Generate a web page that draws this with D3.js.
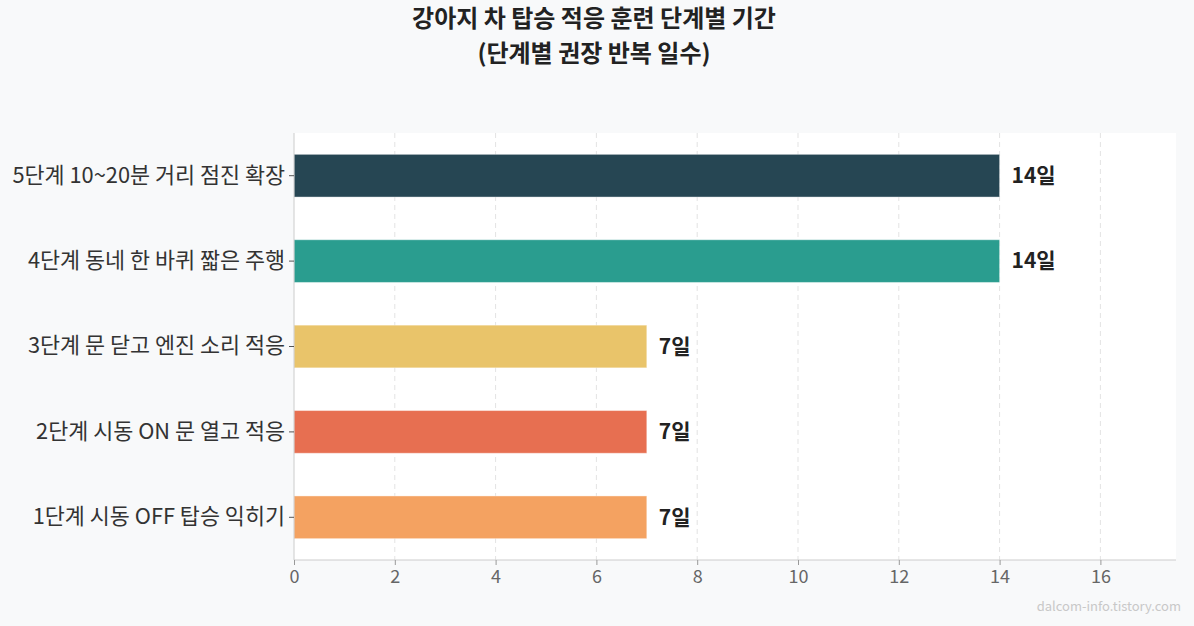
<!DOCTYPE html>
<html>
<head>
<meta charset="utf-8">
<script src="https://cdn.jsdelivr.net/npm/d3@7"></script>
<style>
  body { margin: 0; background: #f8f9fa; }
  svg { font-family: "Noto Sans CJK KR", "Noto Sans", sans-serif; display: block; }
</style>
</head>
<body>
<div id="chart"></div>
<script>
// data, top to bottom as drawn
let stages = [
    "5단계 10~20분 거리 점진 확장",
    "4단계 동네 한 바퀴 짧은 주행",
    "3단계 문 닫고 엔진 소리 적응",
    "2단계 시동 ON 문 열고 적응",
    "1단계 시동 OFF 탑승 익히기"
];
let days = [14, 14, 7, 7, 7];
let barColors = ["#264653", "#2a9d8f", "#e9c46a", "#e76f51", "#f4a261"];
let xTicks = [0, 2, 4, 6, 8, 10, 12, 14, 16];

let svgWidth = 1194;
let svgHeight = 626;

let chartMargin = { top: 133, right: 18, bottom: 66, left: 294 };
let chartWidth = svgWidth - chartMargin.left - chartMargin.right;
let chartHeight = svgHeight - chartMargin.top - chartMargin.bottom;

let svg = d3.select("#chart")
    .append("svg")
    .attr("width", svgWidth)
    .attr("height", svgHeight);

svg.append("rect")
    .attr("width", svgWidth)
    .attr("height", svgHeight)
    .attr("fill", "#f8f9fa");

// title, two lines in one text
let title = svg.append("text")
    .attr("text-anchor", "middle")
    .attr("font-size", "24px")
    .attr("font-weight", "bold")
    .attr("fill", "#222");
title.append("tspan").attr("x", 594).attr("y", 27).text("강아지 차 탑승 적응 훈련 단계별 기간");
title.append("tspan").attr("x", 594).attr("y", 62).text("(단계별 권장 반복 일수)");

let chartGroup = svg.append("g")
    .attr("transform", `translate(${chartMargin.left}, ${chartMargin.top})`);

chartGroup.append("rect")
    .attr("width", chartWidth)
    .attr("height", chartHeight)
    .attr("fill", "#ffffff");

let xLinearScale = d3.scaleLinear()
    .domain([0, 17.5])
    .range([0, chartWidth]);

let yBandScale = d3.scaleBand()
    .domain(stages)
    .range([0, chartHeight])
    .paddingInner(0.5)
    .paddingOuter(0.25);

// dashed grid
chartGroup.selectAll(".grid")
    .data(xTicks.slice(1))
    .enter()
    .append("line")
    .attr("class", "grid")
    .attr("x1", d => xLinearScale(d))
    .attr("x2", d => xLinearScale(d))
    .attr("y1", 0)
    .attr("y2", chartHeight)
    .attr("stroke", "#e3e3e3")
    .attr("stroke-width", 1)
    .attr("stroke-dasharray", "5,4");

// bars
chartGroup.selectAll(".bar")
    .data(stages)
    .enter()
    .append("rect")
    .attr("class", "bar")
    .attr("x", xLinearScale(0))
    .attr("y", d => yBandScale(d))
    .attr("width", (d, i) => xLinearScale(days[i]) - xLinearScale(0))
    .attr("height", yBandScale.bandwidth())
    .attr("fill", (d, i) => barColors[i])
    .attr("stroke", "#ffffff")
    .attr("stroke-opacity", 0.4)
    .attr("stroke-width", 1);

// value labels
chartGroup.selectAll(".val")
    .data(stages)
    .enter()
    .append("text")
    .attr("class", "val")
    .attr("x", (d, i) => xLinearScale(days[i]) + 12)
    .attr("y", d => yBandScale(d) + yBandScale.bandwidth() / 2)
    .attr("dy", "0.35em")
    .attr("font-size", "21px")
    .attr("font-weight", "bold")
    .attr("fill", "#222")
    .text((d, i) => `${days[i]}일`);

// axes
let bottomAxis = d3.axisBottom(xLinearScale).tickValues(xTicks).tickSize(5).tickPadding(5);
let leftAxis = d3.axisLeft(yBandScale).tickSize(5).tickPadding(4);

let xaxis = chartGroup.append("g")
    .attr("transform", `translate(0, ${chartHeight})`)
    .call(bottomAxis);
xaxis.select(".domain").attr("stroke", "#cccccc").attr("d", `M0,0H${chartWidth}`);
xaxis.selectAll(".tick line").attr("stroke", "#999");
xaxis.selectAll(".tick text")
    .attr("font-size", "18px")
    .attr("fill", "#666")
    .attr("font-family", "'Noto Sans CJK KR', sans-serif");

let yaxis = chartGroup.append("g").call(leftAxis);
yaxis.select(".domain").attr("stroke", "#cccccc").attr("d", `M0,0V${chartHeight}`);
yaxis.selectAll(".tick line").attr("stroke", "#555");
yaxis.selectAll(".tick text")
    .attr("font-size", "21.8px")
    .attr("fill", "#333")
    .attr("font-family", "'Noto Sans CJK KR', sans-serif");

// watermark
svg.append("text")
    .attr("x", 1181)
    .attr("y", 611)
    .attr("text-anchor", "end")
    .attr("font-size", "13px")
    .attr("fill", "#c8c8c8")
    .text("dalcom-info.tistory.com");
</script>
</body>
</html>
